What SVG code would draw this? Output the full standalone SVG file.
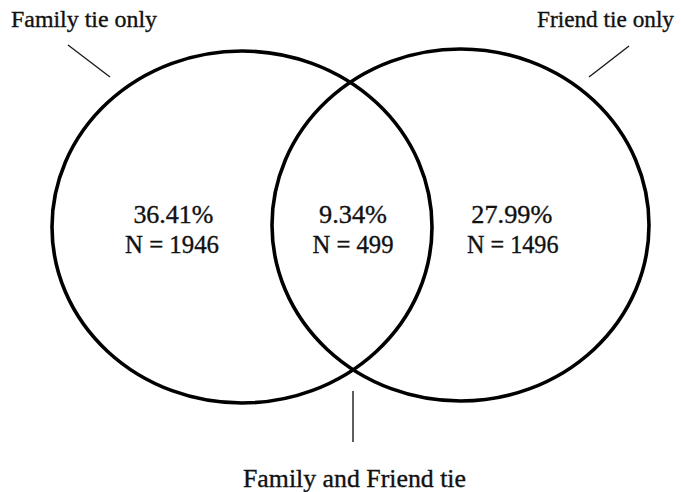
<svg xmlns="http://www.w3.org/2000/svg" width="681" height="492" viewBox="0 0 681 492">
<style>
.c{fill:none;stroke:#000;stroke-width:3.6}
.p{stroke:#1a1a1a;stroke-width:1.4;fill:none}
text{font-family:"Liberation Serif","Times New Roman",serif;font-size:25px;fill:#111;stroke:#111;stroke-width:0.35}
.t{font-size:23.5px}
</style>
<rect width="681" height="492" fill="#fff"/>
<g id="family-circle"><ellipse class="c" cx="242" cy="227" rx="190" ry="176"/></g>
<g id="friend-circle"><ellipse class="c" cx="460.5" cy="225" rx="188.5" ry="176"/></g>
<g id="connectors">
<line class="p" x1="68" y1="45" x2="110" y2="77"/>
<line class="p" x1="629" y1="46" x2="589" y2="77"/>
<line class="p" x1="353" y1="391" x2="353" y2="442"/>
</g>
<g id="label-family"><text class="t" x="11" y="26.7" textLength="146" lengthAdjust="spacingAndGlyphs">Family tie only</text></g>
<g id="label-friend"><text class="t" x="537" y="26.7" textLength="137" lengthAdjust="spacingAndGlyphs">Friend tie only</text></g>
<g id="label-both"><text x="243" y="487" textLength="223" lengthAdjust="spacingAndGlyphs">Family  and Friend tie</text></g>
<g id="family-only">
<text x="133.4" y="222.7" textLength="80" lengthAdjust="spacingAndGlyphs">36.41%</text>
<text x="125" y="252.7" textLength="94" lengthAdjust="spacingAndGlyphs">N = 1946</text>
</g>
<g id="both">
<text x="319" y="222.7" textLength="68" lengthAdjust="spacingAndGlyphs">9.34%</text>
<text x="312.5" y="252.7" textLength="81" lengthAdjust="spacingAndGlyphs">N = 499</text>
</g>
<g id="friend-only">
<text x="471.3" y="222.7" textLength="81" lengthAdjust="spacingAndGlyphs">27.99%</text>
<text x="467" y="252.7" textLength="91.5" lengthAdjust="spacingAndGlyphs">N = 1496</text>
</g>
</svg>
